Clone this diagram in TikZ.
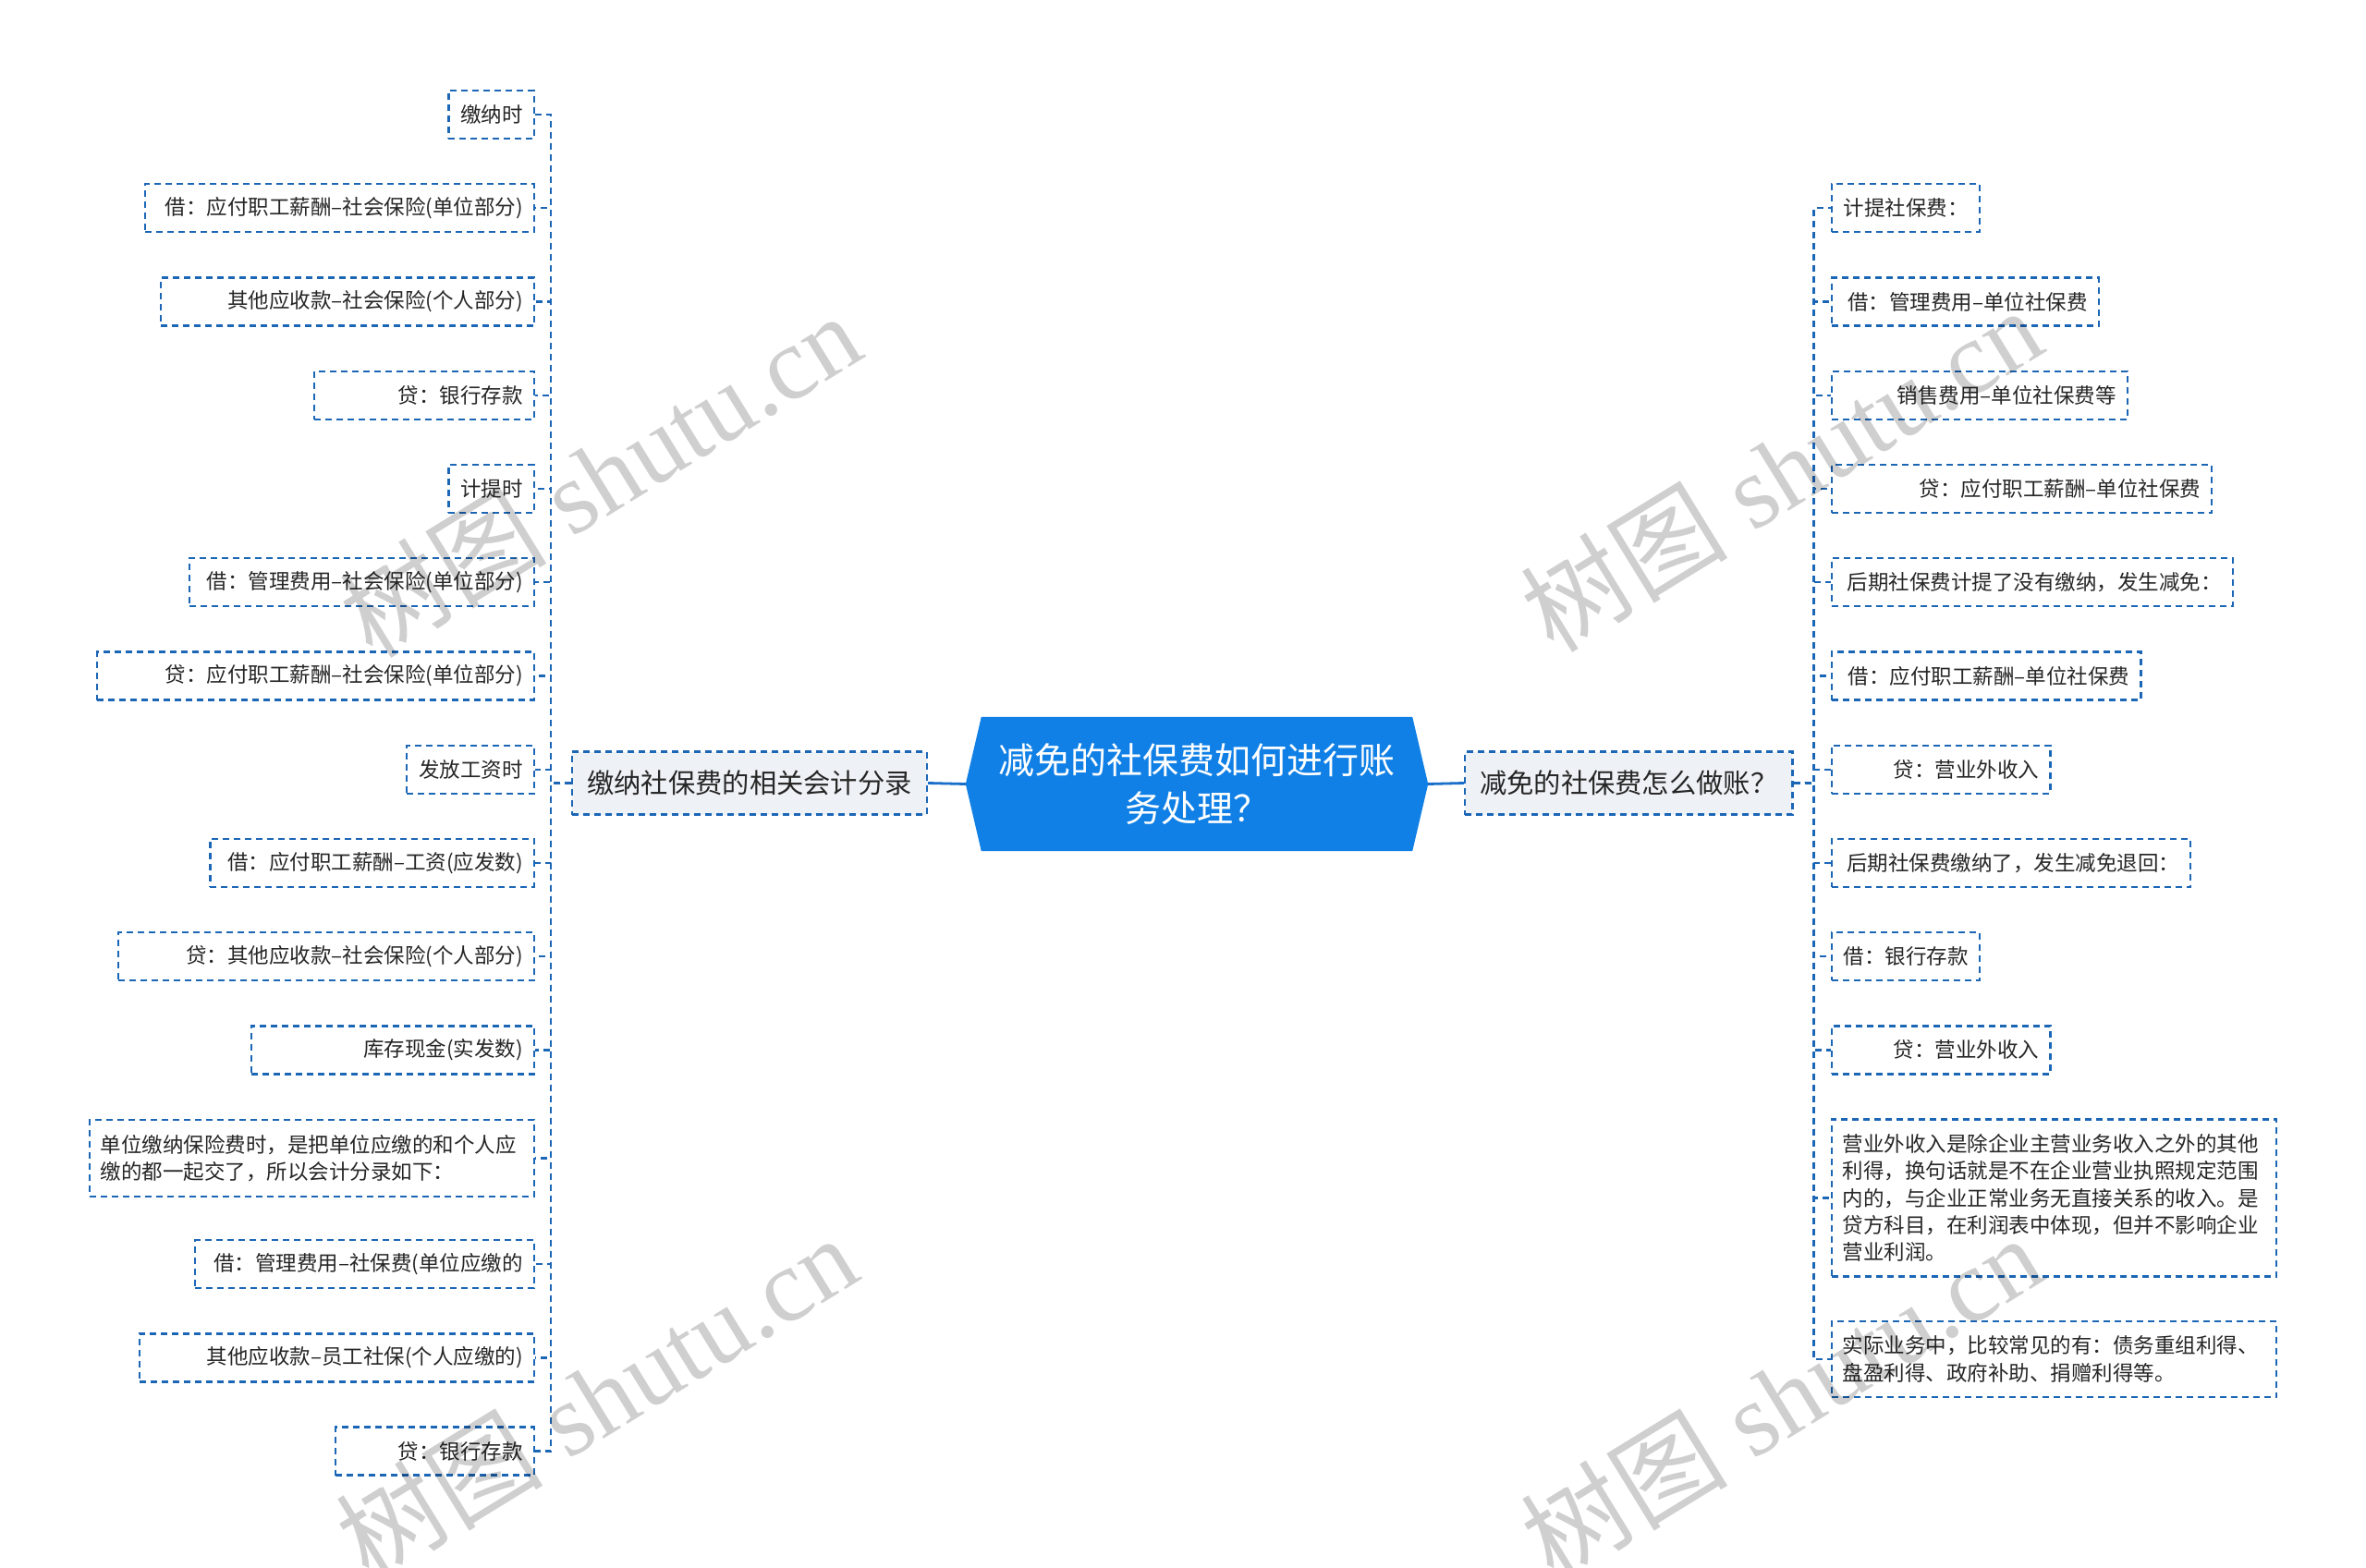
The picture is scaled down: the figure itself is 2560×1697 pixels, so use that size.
\documentclass[tikz,border=0pt]{standalone}
\usepackage{fontspec}
\setmainfont{Noto Sans CJK SC}
\newfontfamily\wmlatin{Liberation Serif}
\usetikzlibrary{calc}
\definecolor{mainblue}{RGB}{16,128,230}
\definecolor{connblue}{RGB}{24,110,200}
\definecolor{lineblue}{RGB}{28,102,182}
\definecolor{branchfill}{RGB}{238,241,245}
\definecolor{textdark}{RGB}{38,38,38}
\pgfdeclarelayer{background}
\pgfdeclarelayer{front}
\pgfsetlayers{background,main,front}
\tikzset{
  dashline/.style={draw=lineblue, line width=2.3pt, dash pattern=on 7pt off 5pt},
  leaf/.style={dashline, inner xsep=12pt, inner ysep=0pt, minimum height=52pt,
    font=\fontsize{22.5}{29.4}\selectfont, text=textdark},
  branchbox/.style={dashline, fill=branchfill, inner xsep=16pt, inner ysep=0pt,
    minimum height=68pt, font=\fontsize{29.3}{36}\selectfont, text=textdark},
  centerbox/.style={inner sep=0pt, minimum width=500pt, minimum height=145pt,
    align=center, text=white, font=\fontsize{39}{52}\selectfont},
  conn/.style={dashline},
  mainconn/.style={draw=connblue, line width=2.8pt},
  wm/.style={rotate=31.6, text=black, text opacity=0.19, inner sep=0pt,
    font=\fontsize{112}{112}\selectfont}
}
\begin{document}
\begin{tikzpicture}[x=1pt,y=-1pt]
\begin{pgfonlayer}{background}
\fill[white] (0,0) rectangle (2560,1697);
\end{pgfonlayer}
\useasboundingbox (0,0) rectangle (2560,1697);
\clip (0,0) rectangle (2560,1697);

% central node
\node[centerbox] (c) at (1295,848.5) {减免的社保费如何进行账\\务处理？};
\begin{pgfonlayer}{background}
\fill[mainblue] ([xshift=17pt]c.north west) -- ([xshift=-17pt]c.north east) -- (c.east)
  -- ([xshift=-17pt]c.south east) -- ([xshift=17pt]c.south west) -- (c.west) -- cycle;
\end{pgfonlayer}

% branches
\node[branchbox, anchor=east] (LB) at (1004,847.5) {缴纳社保费的相关会计分录};
\node[branchbox, anchor=west] (RB) at (1584,847.5) {减免的社保费怎么做账？};

% left leaves
\node[leaf, anchor=east] (L1) at (579,124.1) {\makebox[68.5pt][r]{缴纳时}};
\node[leaf, anchor=east] (L2) at (579,225.3) {\makebox[396.6pt][r]{借：应付职工薪酬–社会保险(单位部分)}};
\node[leaf, anchor=east] (L3) at (579,326.5) {\makebox[380pt][r]{其他应收款–社会保险(个人部分)}};
\node[leaf, anchor=east] (L4) at (579,427.8) {\makebox[213.8pt][r]{贷：银行存款}};
\node[leaf, anchor=east] (L5) at (579,529) {\makebox[68.5pt][r]{计提时}};
\node[leaf, anchor=east] (L6) at (579,630.2) {\makebox[349pt][r]{借：管理费用–社会保险(单位部分)}};
\node[leaf, anchor=east] (L7) at (579,731.5) {\makebox[448.9pt][r]{贷：应付职工薪酬–社会保险(单位部分)}};
\node[leaf, anchor=east] (L8) at (579,832.7) {\makebox[114pt][r]{发放工资时}};
\node[leaf, anchor=east] (L9) at (579,933.9) {\makebox[326.4pt][r]{借：应付职工薪酬–工资(应发数)}};
\node[leaf, anchor=east] (L10) at (579,1035.1) {\makebox[426pt][r]{贷：其他应收款–社会保险(个人部分)}};
\node[leaf, anchor=east] (L11) at (579,1136.4) {\makebox[282pt][r]{库存现金(实发数)}};
\node[leaf, anchor=east, minimum height=83pt, text width=457pt, align=left] (L12) at (579,1253.5)
  {单位缴纳保险费时，是把单位应缴的和个人应\\缴的都一起交了，所以会计分录如下：};
\node[leaf, anchor=east] (L13) at (579,1368.2) {\makebox[342.8pt][r]{借：管理费用–社保费(单位应缴的}};
\node[leaf, anchor=east] (L14) at (579,1469.4) {\makebox[403pt][r]{其他应收款–员工社保(个人应缴的)}};
\node[leaf, anchor=east] (L15) at (579,1570.6) {\makebox[191pt][r]{贷：银行存款}};

% right leaves
\node[leaf, anchor=west] (R1) at (1980.5,225.3) {\makebox[136pt][r]{计提社保费：}};
\node[leaf, anchor=west] (R2) at (1980.5,326.5) {\makebox[265pt][r]{借：管理费用–单位社保费}};
\node[leaf, anchor=west] (R3) at (1980.5,427.8) {\makebox[296pt][r]{销售费用–单位社保费等}};
\node[leaf, anchor=west] (R4) at (1980.5,529) {\makebox[387.5pt][r]{贷：应付职工薪酬–单位社保费}};
\node[leaf, anchor=west] (R5) at (1980.5,630.2) {\makebox[410pt][r]{后期社保费计提了没有缴纳，发生减免：}};
\node[leaf, anchor=west] (R6) at (1980.5,731.5) {\makebox[310.7pt][r]{借：应付职工薪酬–单位社保费}};
\node[leaf, anchor=west] (R7) at (1980.5,832.7) {\makebox[212.7pt][r]{贷：营业外收入}};
\node[leaf, anchor=west] (R8) at (1980.5,933.9) {\makebox[364.6pt][r]{后期社保费缴纳了，发生减免退回：}};
\node[leaf, anchor=west] (R9) at (1980.5,1035.1) {\makebox[136pt][r]{借：银行存款}};
\node[leaf, anchor=west] (R10) at (1980.5,1136.4) {\makebox[212.7pt][r]{贷：营业外收入}};
\node[leaf, anchor=west, minimum height=170pt, text width=457.6pt, align=left] (R11) at (1980.5,1296.4)
  {营业外收入是除企业主营业务收入之外的其他\\利得，换句话就是不在企业营业执照规定范围\\内的，与企业正常业务无直接关系的收入。是\\贷方科目，在利润表中体现，但并不影响企业\\营业利润。};
\node[leaf, anchor=west, minimum height=82pt, text width=457.6pt, align=left] (R12) at (1980.5,1471)
  {实际业务中，比较常见的有：债务重组利得、\\盘盈利得、政府补助、捐赠利得等。};

% connectors
\draw[mainconn] (c.west) -- (LB.east);
\draw[mainconn] (c.east) -- (RB.west);
\foreach \i in {1,...,15} {
  \draw[conn] (LB.west) -- ++(-22,0) |- (L\i.east);
}
\foreach \i in {1,...,12} {
  \draw[conn] (RB.east) -- ++(22,0) |- (R\i.west);
}

% watermarks
\begin{pgfonlayer}{front}
\node[wm] (wm1) at (649,514) {树图\hspace{0.25em}{\wmlatin shutu.cn}};
\node[wm] (wm2) at (645,1512) {树图\hspace{0.25em}{\wmlatin shutu.cn}};
\node[wm] (wm3) at (1927,508) {树图\hspace{0.25em}{\wmlatin shutu.cn}};
\node[wm] (wm4) at (1927,1512) {树图\hspace{0.25em}{\wmlatin shutu.cn}};
\end{pgfonlayer}
\end{tikzpicture}
\end{document}
